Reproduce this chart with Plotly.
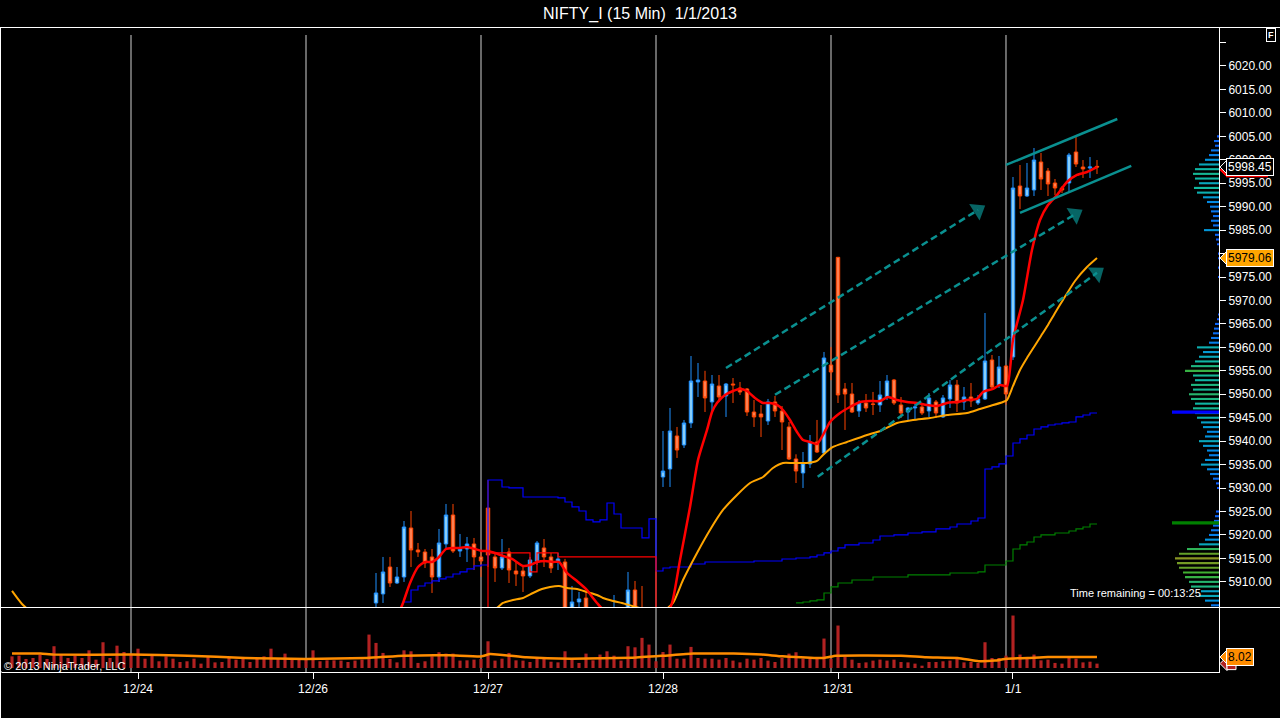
import plotly.graph_objects as go

# bar index 0 = last 15-min bar of 12/21, one session = 25 bars
session_breaks = [0, 25, 50, 75, 100, 125]
date_ticks = [1, 26, 51, 76, 101, 126]
date_labels = ["12/24", "12/26", "12/27", "12/28", "12/31", "1/1"]

# candles from bar 35 (older ones sit below the visible price range)
first_bar = 35
opens = [5905.50, 5907.42, 5913.17, 5909.76, 5911.04, 5921.49, 5916.80, 5916.37, 5915.31, 5911.04,
         5918.08, 5924.26, 5916.58, 5917.01, 5918.08, 5915.31, 5925.75, 5915.31, 5912.96, 5916.37,
         5912.32, 5912.32, 5911.26, 5914.45, 5917.23, 5915.31, 5914.24, 5914.24, 5900.00, 5905.71,
         5906.56, 5902.00, 5900.00, 5897.00, 5898.00, 5901.00, 5903.00, 5908.27, 5904.00, 5900.00,
         5899.00, 5932.36, 5934.07, 5941.11, 5939.19, 5943.88, 5952.62, 5952.83, 5948.36, 5951.77,
         5949.64, 5952.19, 5951.34, 5951.13, 5946.22, 5945.80, 5944.30, 5948.36, 5946.44, 5943.03,
         5936.20, 5933.22, 5935.14, 5939.83, 5937.48, 5956.24, 5979.20, 5951.13, 5950.06, 5946.44,
         5948.14, 5947.93, 5947.72, 5949.42, 5953.05, 5947.72, 5946.22, 5947.08, 5947.29, 5946.44,
         5948.36, 5945.16, 5949.00, 5951.98, 5948.36, 5949.42, 5948.14, 5949.00, 5957.31, 5951.98,
         5956.03, 5957.95, 5994.41, 5992.28, 5993.56, 5999.53, 5997.61, 5995.05, 5993.98, 5995.05,
         6001.66, 5998.46, 5998.25, 5998.60]
highs = [5911.89, 5915.31, 5915.31, 5913.17, 5922.98, 5925.11, 5918.29, 5917.01, 5917.01, 5921.28,
         5926.61, 5926.61, 5920.21, 5919.57, 5919.36, 5916.37, 5931.72, 5916.16, 5919.14, 5917.23,
         5914.24, 5913.17, 5915.31, 5918.72, 5919.14, 5916.16, 5916.16, 5914.90, 5909.12, 5907.84,
         5907.84, 5904.00, 5903.00, 5900.00, 5907.20, 5903.00, 5912.11, 5910.19, 5909.12, 5903.00,
         5902.00, 5942.17, 5947.08, 5943.03, 5944.52, 5958.16, 5956.67, 5955.00, 5954.11, 5954.11,
         5952.41, 5953.47, 5952.62, 5951.34, 5948.78, 5947.72, 5949.00, 5949.64, 5947.50, 5944.09,
         5937.20, 5937.69, 5941.32, 5944.52, 5959.02, 5960.08, 5979.30, 5952.41, 5952.41, 5948.78,
         5950.06, 5950.49, 5952.83, 5954.11, 5953.26, 5949.42, 5947.30, 5948.36, 5948.14, 5950.27,
         5948.78, 5949.85, 5953.05, 5953.05, 5951.55, 5952.41, 5949.85, 5967.33, 5958.38, 5958.16,
         5956.24, 5996.33, 5998.89, 5999.32, 6002.51, 6001.45, 5998.25, 5995.90, 5994.40, 6001.45,
         6004.86, 5999.95, 6000.59, 5999.95]
lows = [5904.00, 5905.50, 5908.91, 5909.55, 5909.98, 5913.17, 5915.31, 5912.96, 5907.63, 5909.98,
        5916.80, 5916.16, 5915.31, 5914.24, 5912.53, 5911.04, 5913.17, 5909.98, 5912.53, 5909.76,
        5909.12, 5907.84, 5910.83, 5913.60, 5913.17, 5911.89, 5912.53, 5899.00, 5898.00, 5904.50,
        5900.00, 5898.00, 5896.00, 5894.00, 5896.00, 5897.00, 5902.00, 5900.00, 5899.00, 5897.00,
        5896.00, 5930.23, 5930.23, 5936.42, 5938.55, 5942.81, 5949.42, 5946.22, 5946.22, 5948.36,
        5945.16, 5948.14, 5949.85, 5945.37, 5943.03, 5940.89, 5943.45, 5945.16, 5938.12, 5935.99,
        5931.08, 5930.02, 5934.28, 5937.48, 5937.30, 5953.00, 5948.14, 5942.39, 5946.00, 5945.16,
        5946.22, 5945.58, 5946.22, 5948.78, 5947.72, 5944.94, 5944.30, 5944.52, 5945.58, 5945.16,
        5944.94, 5944.94, 5947.08, 5946.22, 5946.65, 5947.29, 5947.72, 5948.78, 5950.91, 5951.34,
        5947.72, 5957.31, 5989.51, 5992.07, 5992.28, 5993.56, 5992.28, 5992.49, 5992.92, 5993.13,
        5998.46, 5996.12, 5996.12, 5996.97]
closes = [5907.63, 5912.11, 5909.76, 5911.04, 5921.70, 5916.80, 5916.37, 5914.03, 5911.04, 5918.29,
          5924.26, 5916.58, 5917.01, 5918.08, 5915.31, 5914.45, 5915.73, 5912.96, 5915.31, 5912.53,
          5911.68, 5911.26, 5914.67, 5918.29, 5915.31, 5912.96, 5914.88, 5901.00, 5905.71, 5906.35,
          5902.00, 5900.00, 5897.00, 5898.00, 5901.00, 5899.00, 5908.27, 5901.00, 5900.00, 5899.00,
          5898.00, 5933.64, 5942.17, 5938.12, 5943.88, 5952.83, 5953.05, 5949.21, 5952.19, 5949.42,
          5952.19, 5952.00, 5950.49, 5946.22, 5945.16, 5945.16, 5948.36, 5946.44, 5944.09, 5936.20,
          5933.64, 5935.35, 5939.83, 5937.69, 5957.74, 5954.75, 5949.85, 5950.06, 5946.22, 5948.14,
          5947.08, 5947.85, 5949.85, 5952.83, 5948.14, 5946.01, 5947.08, 5947.29, 5946.01, 5949.21,
          5946.01, 5949.21, 5951.98, 5948.14, 5949.42, 5948.57, 5949.00, 5957.10, 5951.55, 5955.82,
          5950.06, 5993.98, 5992.28, 5993.98, 5999.95, 5995.90, 5994.84, 5993.98, 5993.56, 6001.02,
          5999.10, 5998.04, 5998.46, 5998.45]

# volume (thousands) from bar -17
vol_first_bar = -17
volume = [8.5, 9.0, 6.6, 7.3, 9.8, 6.6, 15.9, 9.8, 7.3, 9.0, 7.3, 12.9, 6.1, 18.8, 7.3, 16.3, 11.7,
          9.8, 14.1, 6.8, 9.0, 4.9, 8.5, 6.8, 4.4, 4.9, 6.8,
          3.2, 8.5, 4.1, 4.4, 7.3, 6.1, 6.6, 4.4, 7.1, 8.5,
          14.1, 7.3, 10.5, 6.6, 6.6, 7.1, 12.9, 4.9, 5.6, 5.6,
          5.4, 4.4, 5.4, 6.1, 24.4, 18.3, 11.0, 6.6, 4.1, 12.9,
          12.2, 3.7, 4.9, 8.5, 11.5, 10.5, 10.5, 5.4, 5.6, 6.1,
          6.6, 19.5, 5.4, 6.8, 11.0, 5.6, 5.4, 4.4, 6.6, 6.6,
          4.6, 4.1, 12.2, 6.6, 3.7, 10.5, 5.6, 9.8, 12.2, 9.0,
          5.4, 15.9, 15.1, 22.0, 17.1, 4.9, 11.7, 17.1, 6.8, 6.8,
          15.4, 7.3, 6.8, 6.8, 6.1, 7.3, 5.4, 4.1, 6.8, 6.1,
          7.3, 5.4, 4.4, 7.3, 10.5, 11.5, 6.8, 6.8, 6.8, 21.5,
          6.8, 31.0, 8.0, 6.1, 3.7, 4.1, 5.4, 6.1, 5.4, 6.1,
          4.4, 4.1, 3.2, 1.7, 4.4, 4.4, 4.9, 5.4, 6.6, 4.1,
          4.4, 3.7, 18.8, 7.3, 7.3, 9.0, 38.3, 9.8, 6.8, 9.8,
          5.6, 6.1, 3.7, 3.2, 7.3, 6.8, 4.1, 4.6, 3.2]
vol_ma_x = [-17, -12.9, -11.1, 0, 8.1, 16.3, 25, 33.7, 39, 45.4, 50.1, 51.3, 56.5, 62.9, 71.7, 76.2,
            80.3, 86.1, 90.1, 93.1, 99, 100.7, 110, 113.6, 118.1, 121.1, 123.4, 125.1, 128.1, 131, 138]
vol_ma = [10.5, 10.5, 9.8, 9.8, 9.0, 7.3, 6.6, 7.3, 9.0, 9.3, 8.5, 10.2, 7.8, 6.8, 7.5, 9.0,
          10.5, 10.5, 9.8, 8.5, 7.3, 9.0, 9.0, 7.8, 7.3, 4.9, 5.4, 6.8, 7.3, 8.0, 8.02]

# fast (red) and slow (orange) moving averages
ema_fast_x = [38.3, 38.86, 39.86, 41.0, 42.0, 43.0, 43.86, 45.0, 46.0, 47.0, 48.0, 49.14, 50.14, 51.0,
              52.0, 53.14, 54.43, 55.29, 56.0, 57.0, 58.0, 59.14, 60.29, 61.14, 62.29, 63.86, 65.14,
              66.0, 66.57, 68.0, 71.0, 74.0, 76.0, 77.29, 78.43, 79.86, 81.0, 82.29, 83.0, 83.71, 84.86,
              86.0, 87.0, 88.0, 89.14, 90.29, 91.29, 92.29, 93.14, 94.14, 95.14, 96.0, 97.0, 98.0,
              98.86, 99.86, 101.29, 102.71, 104.14, 105.57, 107.0, 108.14, 109.43, 110.86, 112.29,
              113.71, 115.14, 116.57, 118.0, 119.43, 120.86, 121.71, 123.14, 124.14, 125.14, 126.0,
              127.43, 128.71, 129.86, 131.0, 132.29, 133.71, 135.14, 136.57, 138.0]
ema_fast = [5903.5, 5905.50, 5909.76, 5913.17, 5914.24, 5914.24, 5915.09, 5917.01, 5917.23, 5917.23,
            5917.44, 5917.01, 5916.58, 5916.58, 5916.16, 5915.52, 5914.88, 5914.03, 5913.39, 5913.60,
            5914.24, 5914.45, 5914.24, 5914.24, 5911.89, 5909.98, 5908.27, 5906.56, 5905.50, 5903.2,
            5901.0, 5899.8, 5901.5, 5905.50, 5914.67, 5925.97, 5935.99, 5942.39, 5946.22, 5948.14,
            5949.85, 5950.70, 5951.13, 5950.70, 5949.21, 5948.14, 5948.14, 5947.72, 5946.65, 5944.52,
            5941.96, 5940.25, 5939.83, 5939.40, 5941.32, 5944.09, 5946.01, 5947.29, 5948.36, 5948.57,
            5948.57, 5949.42, 5948.78, 5948.36, 5948.14, 5947.72, 5947.50, 5948.14, 5948.36, 5948.78,
            5949.00, 5950.49, 5951.13, 5951.98, 5951.77, 5961.58, 5970.11, 5980.77, 5987.16, 5990.36,
            5992.49, 5995.26, 5996.76, 5997.40, 5998.45]
ema_slow_x = [-17.0, -15.57, -14.0, 30.0, 52.0, 53.14, 54.57, 56.0, 57.43, 58.71, 59.86, 61.14, 62.29,
              63.71, 65.14, 66.57, 67.43, 68.86, 70.14, 73.0, 76.0, 77.43, 78.86, 80.86, 82.71, 84.57,
              86.57, 88.43, 90.29, 91.71, 93.14, 94.57, 96.57, 98.0, 98.86, 100.29, 102.29, 105.14,
              107.0, 109.43, 111.71, 114.14, 116.57, 119.43, 121.29, 122.71, 124.57, 125.14, 126.0,
              127.0, 128.0, 129.0, 130.0, 131.0, 132.0, 133.14, 134.86, 136.57, 138.0]
ema_slow = [5908.06, 5905.29, 5903.5, 5899.0, 5904.2, 5905.50, 5906.14, 5906.56, 5907.63, 5908.48,
            5908.91, 5909.12, 5908.70, 5908.48, 5907.84, 5907.20, 5906.56, 5905.93, 5905.50, 5904.3,
            5903.8, 5905.50, 5910.40, 5916.16, 5921.06, 5925.33, 5928.53, 5931.08, 5932.36, 5934.28,
            5935.35, 5935.35, 5935.35, 5935.78, 5937.05, 5938.76, 5939.83, 5941.32, 5942.17, 5943.88,
            5944.52, 5944.94, 5945.58, 5946.01, 5946.86, 5947.50, 5948.36, 5948.78, 5951.77, 5955.18,
            5957.74, 5960.08, 5962.43, 5964.77, 5967.33, 5970.11, 5974.16, 5977.14, 5979.06]

# step lines (value changes at these bars)
blue_x = [39, 40, 41, 42, 43, 44, 45, 46, 47, 48, 49, 50, 51, 53, 54, 56, 61, 62, 63, 64, 65, 66, 67,
          68, 69, 70, 73, 74, 75, 76, 77, 80, 82, 89, 93, 95, 97, 98, 99, 100, 101, 102, 104, 106,
          107, 109, 111, 113, 115, 117, 118, 120, 121, 122, 123, 124, 125, 126, 127, 128, 129, 130,
          131, 132, 133, 134, 135, 136, 137, 138]
blue_y = [5905.71, 5908.27, 5909.12, 5909.76, 5910.19, 5910.62, 5911.04, 5911.68, 5912.11, 5912.75,
          5913.39, 5913.60, 5931.72, 5930.23, 5930.02, 5928.10, 5927.89, 5927.03, 5925.97, 5925.11,
          5923.20, 5922.77, 5923.20, 5926.82, 5924.47, 5921.49, 5919.36, 5923.41, 5912.32, 5912.96,
          5913.17, 5913.81, 5914.24, 5914.45, 5914.88, 5915.09, 5915.31, 5915.73, 5916.16, 5916.58,
          5917.23, 5917.87, 5918.29, 5918.93, 5919.78, 5920.00, 5920.42, 5920.64, 5921.28, 5921.70,
          5922.34, 5922.98, 5923.62, 5934.07, 5934.50, 5935.14, 5936.84, 5939.61, 5940.47, 5941.32,
          5942.60, 5943.03, 5943.45, 5943.66, 5943.88, 5944.09, 5945.16, 5945.58, 5946.01, 5946.01]
green_x = [95, 96, 97, 98, 99, 100, 101, 103, 106, 111, 117, 121, 122, 125, 126, 127, 128, 129, 130,
           132, 134, 135, 136, 137, 138]
green_y = [5905.50, 5905.71, 5905.93, 5906.14, 5907.63, 5908.91, 5909.76, 5910.40, 5911.04, 5911.47,
           5911.89, 5912.11, 5913.60, 5914.45, 5917.01, 5917.87, 5918.50, 5919.57, 5920.00, 5920.42,
           5920.85, 5921.28, 5921.70, 5922.34, 5922.34]
red_step_x = [51, 51, 57, 58, 61, 75, 75]
red_step_y = [5903.0, 5916.16, 5912.11, 5916.16, 5915.31, 5915.31, 5903.0]

# drawn trendlines: (bar, price) start -> end
arrow_lines = [((85.0, 5955.6), (121.0, 5989.3)),
               ((92.0, 5949.9), (134.9, 5988.4)),
               ((98.1, 5932.4), (138.0, 5975.9))]
channel_lines = [((125.0, 5998.9), (140.9, 6008.7)),
                 ((127.0, 5988.7), (142.9, 5998.7))]

# volume profile on the right edge
profile_levels = list(range(5905, 6006))
profile_volume = [8, 14, 20, 18, 28, 30, 34, 36, 40, 42,
                  44, 40, 32, 20, 14, 10, 8, 6, 5, 4,
                  3, 0, 0, 0, 0, 2, 3, 6, 9, 12,
                  18, 14, 10, 12, 16, 20, 14, 12, 16, 18,
                  22, 24, 26, 24, 28, 30, 26, 28, 24, 26,
                  34, 28, 24, 20, 16, 22, 10, 8, 6, 5,
                  4, 2, 1, 0, 0, 0, 0, 0, 0, 0,
                  1, 0, 1, 0, 1, 1, 0, 2, 3, 4,
                  15, 6, 8, 6, 8, 9, 12, 16, 22, 25,
                  20, 24, 26, 24, 20, 14, 10, 8, 4, 5,
                  2]
profile_marks = [5946.2, 5922.6]
profile_mark_len = [47, 47]

price_ticks = [5910, 5915, 5920, 5925, 5930, 5935, 5940, 5945, 5950, 5955, 5960, 5965,
               5970, 5975, 5980, 5985, 5990, 5995, 6000, 6005, 6010, 6015, 6020, 6025]

last_price = 5998.45
slow_last = 5979.06
vol_ma_last = 8.02
vol_last = 3.20

TEAL = "#0a9090"
FONT = "Liberation Sans, Arial, sans-serif"
PLOT_L, PLOT_R, PLOT_T, PLOT_B = 2, 1219, 28, 672


def px_x(px):
    return (px - PLOT_L) / (PLOT_R - PLOT_L)


def px_y(py):
    return (PLOT_B - py) / (PLOT_B - PLOT_T)


bars = list(range(first_bar, first_bar + len(opens)))
vol_bars = list(range(vol_first_bar, vol_first_bar + len(volume)))

fig = go.Figure()

# volume profile (overlay axis, 0 at right edge)
fig.add_trace(go.Bar(
    x=profile_volume, y=profile_levels, orientation="h", xaxis="x2", yaxis="y",
    width=0.45, marker=dict(color=profile_volume, colorscale=[[0, "#1050ff"], [0.3, "#0090e0"],
                                                              [0.55, "#10b8a0"], [0.8, "#40b030"],
                                                              [1, "#909020"]],
                            cmin=0, cmax=45, line_width=0),
    hoverinfo="skip", showlegend=False))
fig.add_trace(go.Bar(
    x=profile_mark_len, y=profile_marks, orientation="h", xaxis="x2", yaxis="y",
    width=0.7, marker=dict(color=["#0000ff", "#008000"], line_width=0),
    hoverinfo="skip", showlegend=False))

# volume panel
fig.add_trace(go.Bar(x=vol_bars, y=volume, yaxis="y2", width=0.45,
                     marker=dict(color="#b22222", line_width=0),
                     hoverinfo="skip", showlegend=False))
fig.add_trace(go.Scatter(x=vol_ma_x, y=vol_ma, yaxis="y2", mode="lines",
                         line=dict(color="#ff8c00", width=2.5, shape="spline", smoothing=0.4),
                         hoverinfo="skip", showlegend=False))

# step indicators
for sx, sy, col in [(blue_x, blue_y, "#0000ff"), (green_x, green_y, "#008000"),
                    (red_step_x, red_step_y, "#ff0000")]:
    fig.add_trace(go.Scatter(x=sx, y=sy, mode="lines", line=dict(color=col, width=1.2, shape="hv"),
                             hoverinfo="skip", showlegend=False))

fig.add_trace(go.Candlestick(
    x=bars, open=opens, high=highs, low=lows, close=closes,
    increasing=dict(line=dict(color="#1e90ff", width=1), fillcolor="#87cefa"),
    decreasing=dict(line=dict(color="#ff4500", width=1), fillcolor="#ff7f50"),
    whiskerwidth=0, hoverinfo="skip", showlegend=False))

fig.add_trace(go.Scatter(x=ema_slow_x, y=ema_slow, mode="lines",
                         line=dict(color="#ffa500", width=2, shape="spline", smoothing=0.6),
                         hoverinfo="skip", showlegend=False))
fig.add_trace(go.Scatter(x=ema_fast_x, y=ema_fast, mode="lines",
                         line=dict(color="#ff0000", width=2.5, shape="spline", smoothing=0.6),
                         hoverinfo="skip", showlegend=False))

for (x0, y0), (x1, y1) in arrow_lines:
    fig.add_trace(go.Scatter(x=[x0, x1], y=[y0, y1], mode="lines+markers",
                             line=dict(color=TEAL, width=2.5, dash="7px,4px"),
                             marker=dict(size=[0, 17], symbol="triangle-up", angleref="previous",
                                         color=TEAL, line_width=0),
                             hoverinfo="skip", showlegend=False))
for (x0, y0), (x1, y1) in channel_lines:
    fig.add_trace(go.Scatter(x=[x0, x1], y=[y0, y1], mode="lines",
                             line=dict(color=TEAL, width=2.5),
                             hoverinfo="skip", showlegend=False))

shapes = []
for b in session_breaks:
    shapes.append(dict(type="line", xref="x", yref="paper", x0=b, x1=b, y0=0, y1=px_y(35),
                       line=dict(color="#d0d0d0", width=1), layer="below"))
for py in (27.5, 607.5):
    shapes.append(dict(type="line", xref="paper", yref="paper", x0=px_x(0), x1=px_x(1280),
                       y0=px_y(py), y1=px_y(py), line=dict(color="white", width=1)))
shapes.append(dict(type="line", xref="paper", yref="paper", x0=px_x(0.5), x1=px_x(0.5),
                   y0=px_y(27.5), y1=px_y(718), line=dict(color="white", width=1)))
shapes.append(dict(type="line", xref="paper", yref="paper", x0=px_x(0), x1=px_x(2),
                   y0=0, y1=0, line=dict(color="white", width=1)))

annotations = []


def tag_pointer(value, yref, fill, border, dy=0):
    shapes.append(dict(type="path", xref="paper", yref=yref, xsizemode="pixel", ysizemode="pixel",
                       xanchor=1.0, yanchor=value, path="M1,%d L8,%d L8,%d Z" % (dy, dy + 7, dy - 7),
                       fillcolor=fill, line=dict(color=border, width=1)))


def price_tag(value, yref, text, fill, text_color, border):
    tag_pointer(value, yref, fill, border)
    annotations.append(dict(xref="paper", yref=yref, x=px_x(1226), y=value, xanchor="left",
                            yanchor="middle", text=text, showarrow=False,
                            font=dict(family=FONT, size=12, color=text_color),
                            bgcolor=fill, bordercolor=border, borderwidth=1, borderpad=1))


# red moving-average tag peeking out under the last-price tag
tag_pointer(last_price, "y", "#ff0000", "#ff0000", dy=-3)
shapes.append(dict(type="line", xref="paper", yref="y", ysizemode="pixel", yanchor=last_price,
                   x0=px_x(1226), x1=px_x(1268), y0=-9, y1=-9, line=dict(color="#ff0000", width=2.5)))
price_tag(last_price, "y", "%.2f" % last_price, "#000000", "#ffffff", "#ffffff")
price_tag(slow_last, "y", "%.2f" % slow_last, "#ffa500", "#000000", "#ffffff")
# last volume tag mostly hidden under the volume-average tag
tag_pointer(vol_last, "y2", "#b22222", "#ffffff")
shapes.append(dict(type="rect", xref="paper", yref="y2", ysizemode="pixel", yanchor=vol_last,
                   x0=px_x(1227), x1=px_x(1236), y0=-6, y1=6, fillcolor="#b22222",
                   line=dict(color="#ffffff", width=1)))
price_tag(vol_ma_last, "y2", "%.2f" % vol_ma_last, "#ff8c00", "#000000", "#ffffff")

annotations += [
    dict(xref="paper", yref="paper", x=px_x(1203), y=px_y(593), xanchor="right", yanchor="middle",
         text="Time remaining = 00:13:25", showarrow=False,
         font=dict(family=FONT, size=11, color="white")),
    dict(xref="paper", yref="paper", x=px_x(2), y=px_y(666), xanchor="left", yanchor="middle",
         text="© 2013 NinjaTrader, LLC", showarrow=False,
         font=dict(family=FONT, size=11, color="white")),
    dict(xref="paper", yref="paper", x=px_x(1271), y=px_y(35), xanchor="center", yanchor="middle",
         text="<b>F</b>", showarrow=False, font=dict(family=FONT, size=9, color="white"),
         bgcolor="black", bordercolor="white", borderwidth=1, borderpad=1),
]

fig.update_layout(
    width=1280, height=718,
    margin=dict(l=PLOT_L, r=1280 - PLOT_R, t=PLOT_T, b=718 - PLOT_B, pad=0),
    paper_bgcolor="black", plot_bgcolor="black",
    barmode="overlay", showlegend=False, hovermode=False,
    title=dict(text="NIFTY_I (15 Min)&nbsp; 1/1/2013", x=0.5, xref="container", xanchor="center",
               y=1 - 13 / 718, yref="container", yanchor="middle",
               font=dict(family=FONT, size=16, color="white")),
    xaxis=dict(range=[-18.43, 155.43], anchor="y2", tickvals=date_ticks, ticktext=date_labels,
               ticks="outside", ticklen=6, tickcolor="white", showline=True, linecolor="white",
               showgrid=False, zeroline=False, rangeslider=dict(visible=False),
               tickfont=dict(family=FONT, size=12, color="white")),
    xaxis2=dict(overlaying="x", range=[PLOT_R - PLOT_L, 0], anchor="y", visible=False),
    yaxis=dict(domain=[px_y(607), 1], range=[5904.64, 6028.10], side="right", anchor="x",
               tickvals=price_ticks, ticktext=["%.2f" % t if t < 6025 else "" for t in price_ticks],
               ticks="outside", ticklen=6, tickcolor="white", showline=True, linecolor="white",
               showgrid=False, zeroline=False,
               tickfont=dict(family=FONT, size=12, color="white")),
    yaxis2=dict(domain=[0, px_y(608)], range=[-2.92, 43.8], side="right", anchor="x",
                showline=True, linecolor="white", showticklabels=False, ticks="",
                showgrid=False, zeroline=False),
    shapes=shapes, annotations=annotations,
)

fig.write_html("out.html", config={"displayModeBar": False},
               post_script="document.body.style.margin='0';")
